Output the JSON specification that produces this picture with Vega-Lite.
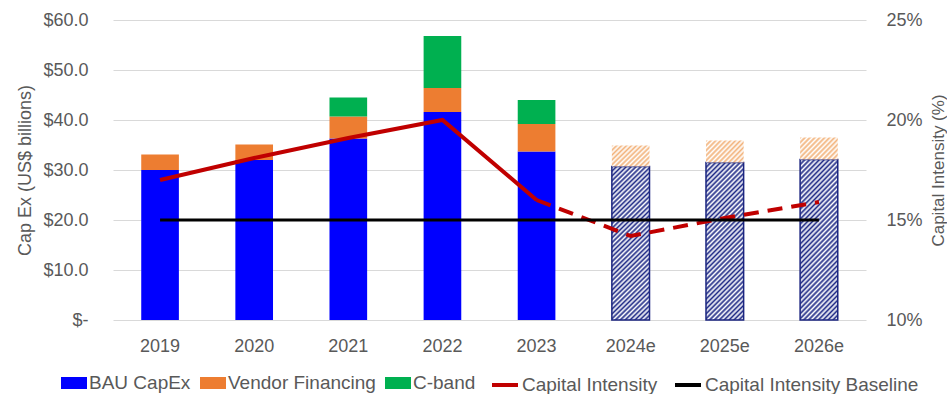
{
  "$schema": "https://vega.github.io/schema/vega-lite/v6.json",
  "width": 753,
  "height": 300,
  "padding": {"left": 16, "top": 11, "right": 0, "bottom": 0},
  "config": {
    "view": {"stroke": null},
    "font": "Liberation Sans",
    "axis": {"labelFont": "Liberation Sans", "labelFontSize": 18, "labelColor": "#595959", "titleFont": "Liberation Sans", "titleFontSize": 18, "titleColor": "#595959", "titleFontWeight": "normal", "domain": false, "ticks": false},
    "legend": {"labelFont": "Liberation Sans", "labelFontSize": 19, "labelColor": "#595959", "labelLimit": 400, "columnPadding": 9, "labelOffset": 2, "offset": 15, "layout": {"bottom": {"anchor": "middle", "margin": 14}}}
  },
  "datasets": {
    "bars": [
      {"year": "2019", "series": "BAU CapEx", "k": 1, "value": 30.0},
      {"year": "2019", "series": "Vendor Financing", "k": 2, "value": 3.1},
      {"year": "2020", "series": "BAU CapEx", "k": 1, "value": 32.0},
      {"year": "2020", "series": "Vendor Financing", "k": 2, "value": 3.1},
      {"year": "2021", "series": "BAU CapEx", "k": 1, "value": 36.3},
      {"year": "2021", "series": "Vendor Financing", "k": 2, "value": 4.4},
      {"year": "2021", "series": "C-band", "k": 3, "value": 3.8},
      {"year": "2022", "series": "BAU CapEx", "k": 1, "value": 41.6},
      {"year": "2022", "series": "Vendor Financing", "k": 2, "value": 4.8},
      {"year": "2022", "series": "C-band", "k": 3, "value": 10.4},
      {"year": "2023", "series": "BAU CapEx", "k": 1, "value": 33.7},
      {"year": "2023", "series": "Vendor Financing", "k": 2, "value": 5.5},
      {"year": "2023", "series": "C-band", "k": 3, "value": 4.8},
      {"year": "2024e", "series": "BAU CapEx", "k": 1, "value": 30.7},
      {"year": "2024e", "series": "Vendor Financing", "k": 2, "value": 4.2},
      {"year": "2025e", "series": "BAU CapEx", "k": 1, "value": 31.5},
      {"year": "2025e", "series": "Vendor Financing", "k": 2, "value": 4.4},
      {"year": "2026e", "series": "BAU CapEx", "k": 1, "value": 32.1},
      {"year": "2026e", "series": "Vendor Financing", "k": 2, "value": 4.4}
    ],
    "ciA": [
      {"year": "2019", "series": "Capital Intensity", "ci": 0.170},
      {"year": "2020", "series": "Capital Intensity", "ci": 0.181},
      {"year": "2021", "series": "Capital Intensity", "ci": 0.191},
      {"year": "2022", "series": "Capital Intensity", "ci": 0.200},
      {"year": "2023", "series": "Capital Intensity", "ci": 0.160}
    ],
    "ciF": [
      {"year": "2023", "series": "Capital Intensity", "ci": 0.160},
      {"year": "2024e", "series": "Capital Intensity", "ci": 0.142},
      {"year": "2025e", "series": "Capital Intensity", "ci": 0.151},
      {"year": "2026e", "series": "Capital Intensity", "ci": 0.159}
    ],
    "base": [
      {"year": "2019", "series": "Capital Intensity Baseline", "ci": 0.15},
      {"year": "2026e", "series": "Capital Intensity Baseline", "ci": 0.15}
    ]
  },
  "layer": [
    {
      "data": {"name": "bars"},
      "mark": {"type": "bar", "strokeWidth": 1.5},
      "encoding": {
        "x": {"field": "year", "type": "ordinal", "scale": {"domain": ["2019", "2020", "2021", "2022", "2023", "2024e", "2025e", "2026e"], "paddingInner": 0.6, "paddingOuter": 0.3}, "axis": {"title": null, "labelAngle": 0, "labelPadding": 17, "grid": false}},
        "y": {"field": "value", "type": "quantitative", "stack": "zero", "scale": {"domain": [0, 60], "nice": false}, "axis": {"title": "Cap Ex (US$ billions)", "values": [0, 10, 20, 30, 40, 50, 60], "labelExpr": "datum.value == 0 ? '$-' : '$' + format(datum.value, '.1f')", "grid": true, "gridColor": "#D9D9D9", "labelPadding": 25, "titlePadding": 8}},
        "order": {"field": "k", "type": "quantitative"},
        "fill": {
          "field": "series", "type": "nominal",
          "scale": {"domain": ["BAU CapEx", "Vendor Financing", "C-band"], "range": ["#0000FF", "#ED7D31", "#00B050"]},
          "legend": {"title": null, "orient": "bottom", "direction": "horizontal", "symbolType": "M-1,-0.46H1V0.46H-1Z", "symbolSize": 676, "symbolStrokeWidth": 0},
          "condition": [
            {"test": "isString(datum.year) && indexof(datum.year,'e')>0 && datum.series=='BAU CapEx'", "value": {"gradient": "linear", "x1": 0, "y1": 0, "x2": 0.2811, "y2": 1.1724, "stops": [
              {"offset": 0, "color": "#1F2A86"}, {"offset": 0.0125, "color": "#FFFFFF"}, {"offset": 0.025, "color": "#1F2A86"}, {"offset": 0.0375, "color": "#FFFFFF"}, {"offset": 0.05, "color": "#1F2A86"}, {"offset": 0.0625, "color": "#FFFFFF"}, {"offset": 0.075, "color": "#1F2A86"}, {"offset": 0.0875, "color": "#FFFFFF"},
              {"offset": 0.1, "color": "#1F2A86"}, {"offset": 0.1125, "color": "#FFFFFF"}, {"offset": 0.125, "color": "#1F2A86"}, {"offset": 0.1375, "color": "#FFFFFF"}, {"offset": 0.15, "color": "#1F2A86"}, {"offset": 0.1625, "color": "#FFFFFF"}, {"offset": 0.175, "color": "#1F2A86"}, {"offset": 0.1875, "color": "#FFFFFF"},
              {"offset": 0.2, "color": "#1F2A86"}, {"offset": 0.2125, "color": "#FFFFFF"}, {"offset": 0.225, "color": "#1F2A86"}, {"offset": 0.2375, "color": "#FFFFFF"}, {"offset": 0.25, "color": "#1F2A86"}, {"offset": 0.2625, "color": "#FFFFFF"}, {"offset": 0.275, "color": "#1F2A86"}, {"offset": 0.2875, "color": "#FFFFFF"},
              {"offset": 0.3, "color": "#1F2A86"}, {"offset": 0.3125, "color": "#FFFFFF"}, {"offset": 0.325, "color": "#1F2A86"}, {"offset": 0.3375, "color": "#FFFFFF"}, {"offset": 0.35, "color": "#1F2A86"}, {"offset": 0.3625, "color": "#FFFFFF"}, {"offset": 0.375, "color": "#1F2A86"}, {"offset": 0.3875, "color": "#FFFFFF"},
              {"offset": 0.4, "color": "#1F2A86"}, {"offset": 0.4125, "color": "#FFFFFF"}, {"offset": 0.425, "color": "#1F2A86"}, {"offset": 0.4375, "color": "#FFFFFF"}, {"offset": 0.45, "color": "#1F2A86"}, {"offset": 0.4625, "color": "#FFFFFF"}, {"offset": 0.475, "color": "#1F2A86"}, {"offset": 0.4875, "color": "#FFFFFF"},
              {"offset": 0.5, "color": "#1F2A86"}, {"offset": 0.5125, "color": "#FFFFFF"}, {"offset": 0.525, "color": "#1F2A86"}, {"offset": 0.5375, "color": "#FFFFFF"}, {"offset": 0.55, "color": "#1F2A86"}, {"offset": 0.5625, "color": "#FFFFFF"}, {"offset": 0.575, "color": "#1F2A86"}, {"offset": 0.5875, "color": "#FFFFFF"},
              {"offset": 0.6, "color": "#1F2A86"}, {"offset": 0.6125, "color": "#FFFFFF"}, {"offset": 0.625, "color": "#1F2A86"}, {"offset": 0.6375, "color": "#FFFFFF"}, {"offset": 0.65, "color": "#1F2A86"}, {"offset": 0.6625, "color": "#FFFFFF"}, {"offset": 0.675, "color": "#1F2A86"}, {"offset": 0.6875, "color": "#FFFFFF"},
              {"offset": 0.7, "color": "#1F2A86"}, {"offset": 0.7125, "color": "#FFFFFF"}, {"offset": 0.725, "color": "#1F2A86"}, {"offset": 0.7375, "color": "#FFFFFF"}, {"offset": 0.75, "color": "#1F2A86"}, {"offset": 0.7625, "color": "#FFFFFF"}, {"offset": 0.775, "color": "#1F2A86"}, {"offset": 0.7875, "color": "#FFFFFF"},
              {"offset": 0.8, "color": "#1F2A86"}, {"offset": 0.8125, "color": "#FFFFFF"}, {"offset": 0.825, "color": "#1F2A86"}, {"offset": 0.8375, "color": "#FFFFFF"}, {"offset": 0.85, "color": "#1F2A86"}, {"offset": 0.8625, "color": "#FFFFFF"}, {"offset": 0.875, "color": "#1F2A86"}, {"offset": 0.8875, "color": "#FFFFFF"},
              {"offset": 0.9, "color": "#1F2A86"}, {"offset": 0.9125, "color": "#FFFFFF"}, {"offset": 0.925, "color": "#1F2A86"}, {"offset": 0.9375, "color": "#FFFFFF"}, {"offset": 0.95, "color": "#1F2A86"}, {"offset": 0.9625, "color": "#FFFFFF"}, {"offset": 0.975, "color": "#1F2A86"}, {"offset": 0.9875, "color": "#FFFFFF"},
              {"offset": 1, "color": "#1F2A86"}
            ]}},
            {"test": "isString(datum.year) && indexof(datum.year,'e')>0 && datum.series=='Vendor Financing'", "value": {"gradient": "linear", "x1": 0, "y1": 0, "x2": 1.1848, "y2": 0.6766, "stops": [
              {"offset": 0, "color": "#F2B27A"}, {"offset": 0.0417, "color": "#FFFFFF"}, {"offset": 0.0833, "color": "#F2B27A"}, {"offset": 0.125, "color": "#FFFFFF"}, {"offset": 0.1667, "color": "#F2B27A"}, {"offset": 0.2083, "color": "#FFFFFF"},
              {"offset": 0.25, "color": "#F2B27A"}, {"offset": 0.2917, "color": "#FFFFFF"}, {"offset": 0.3333, "color": "#F2B27A"}, {"offset": 0.375, "color": "#FFFFFF"}, {"offset": 0.4167, "color": "#F2B27A"}, {"offset": 0.4583, "color": "#FFFFFF"},
              {"offset": 0.5, "color": "#F2B27A"}, {"offset": 0.5417, "color": "#FFFFFF"}, {"offset": 0.5833, "color": "#F2B27A"}, {"offset": 0.625, "color": "#FFFFFF"}, {"offset": 0.6667, "color": "#F2B27A"}, {"offset": 0.7083, "color": "#FFFFFF"},
              {"offset": 0.75, "color": "#F2B27A"}, {"offset": 0.7917, "color": "#FFFFFF"}, {"offset": 0.8333, "color": "#F2B27A"}, {"offset": 0.875, "color": "#FFFFFF"}, {"offset": 0.9167, "color": "#F2B27A"}, {"offset": 0.9583, "color": "#FFFFFF"},
              {"offset": 1, "color": "#F2B27A"}
            ]}}
          ]
        },
        "stroke": {"condition": {"test": "isString(datum.year) && indexof(datum.year,'e')>0 && datum.series=='BAU CapEx'", "value": "#1B2580"}, "value": null}
      }
    },
    {
      "layer": [
        {
          "data": {"name": "ciA"},
          "mark": {"type": "line", "strokeWidth": 4},
          "encoding": {
            "x": {"field": "year", "type": "ordinal"},
            "y": {"field": "ci", "type": "quantitative", "scale": {"domain": [0.1, 0.25], "nice": false}, "axis": {"orient": "right", "title": "Capital Intensity (%)", "values": [0.1, 0.15, 0.2, 0.25], "format": ".0%", "grid": false, "labelPadding": 20, "titlePadding": 8, "titleAngle": 270, "titleBaseline": "top", "titleFontSize": 17}},
            "stroke": {"field": "series", "type": "nominal", "scale": {"domain": ["Capital Intensity", "Capital Intensity Baseline"], "range": ["#C00000", "#000000"]}, "legend": {"title": null, "orient": "bottom", "direction": "horizontal", "symbolType": "stroke", "symbolSize": 676, "symbolStrokeWidth": 4}}
          }
        },
        {
          "data": {"name": "ciF"},
          "mark": {"type": "line", "strokeWidth": 4, "strokeDash": [15, 9]},
          "encoding": {
            "x": {"field": "year", "type": "ordinal"},
            "y": {"field": "ci", "type": "quantitative"},
            "stroke": {"field": "series", "type": "nominal"}
          }
        },
        {
          "data": {"name": "base"},
          "mark": {"type": "line", "strokeWidth": 3},
          "encoding": {
            "x": {"field": "year", "type": "ordinal"},
            "y": {"field": "ci", "type": "quantitative"},
            "stroke": {"field": "series", "type": "nominal"}
          }
        }
      ]
    }
  ],
  "resolve": {"scale": {"y": "independent"}}
}
